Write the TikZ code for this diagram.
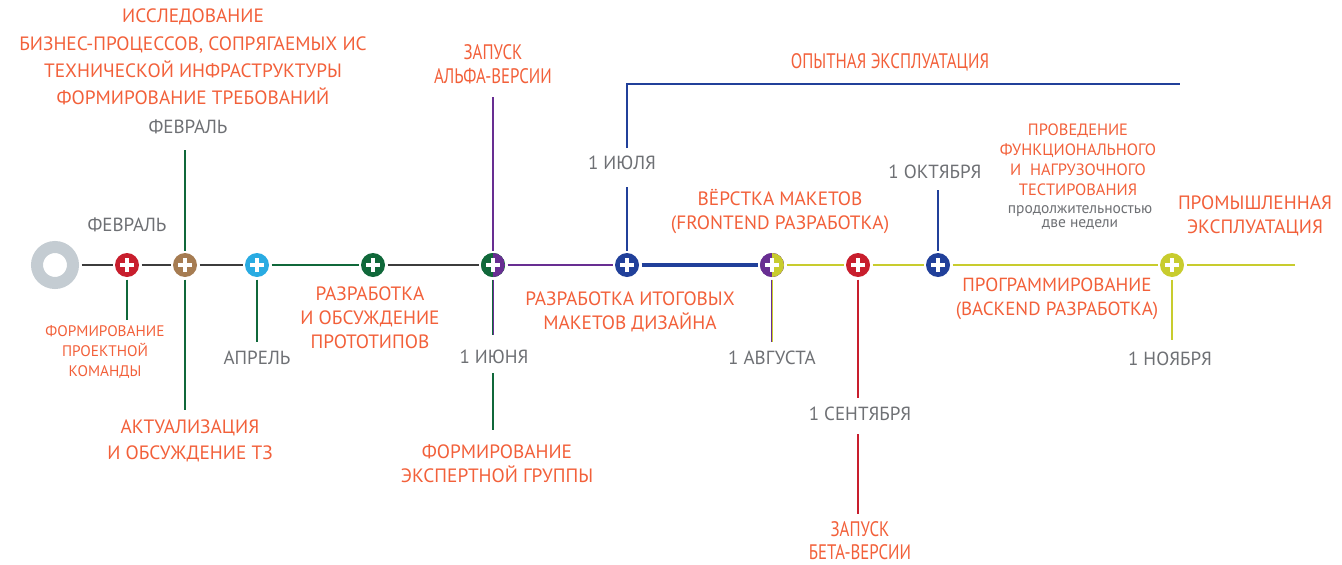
\documentclass[tikz,border=0pt]{standalone}
\usepackage{fontspec}
\setmainfont{PT Sans}
\newfontfamily\narrowfont[FakeStretch=0.8]{PT Sans}
\definecolor{orangec}{RGB}{242,96,58}
\definecolor{grayc}{RGB}{110,112,116}
\definecolor{axisc}{RGB}{60,60,60}
\definecolor{greenc}{RGB}{16,104,58}
\definecolor{purplec}{RGB}{104,46,146}
\definecolor{bluec}{RGB}{33,64,154}
\definecolor{yellowc}{RGB}{200,204,46}
\definecolor{redc}{RGB}{200,30,45}
\definecolor{brownc}{RGB}{166,124,82}
\definecolor{lbluec}{RGB}{41,171,226}
\definecolor{ringc}{RGB}{196,204,210}
\begin{document}
\begin{tikzpicture}[x=1pt, y=-1pt,
		lab/.style={text=orangec, align=center, inner sep=0, font=\fontsize{19.3}{24}\selectfont},
		sm/.style={text=orangec, align=center, inner sep=0, font=\fontsize{15.3}{20}\selectfont},
		date/.style={text=grayc, inner sep=0, font=\fontsize{19}{20}\selectfont},
		ms/.style={circle, minimum size=24pt, inner sep=0, outer sep=2.5pt},
		rhalf/.style={path picture={\fill[#1] (path picture bounding box.north) rectangle (path picture bounding box.south east);}},
		plus/.style={white, line width=4pt},
		axis/.style={line width=2.4pt},
		vline/.style={line width=2.4pt}]
		\useasboundingbox (0,0) rectangle (1342,565);
		%\draw[help lines] (0,0) grid[step=50] (1342,565);
		
		% timeline
		\node[circle, draw=ringc, line width=12pt, minimum size=36pt, outer sep=8.5pt] (s) at (55,265) {};
		\foreach \n\x\c in {1/127/redc, 2/185/brownc, 3/257/lbluec, 4/373/greenc, 5/493/greenc,
			6/627/bluec, 7/772/purplec, 8/858/redc, 9/938/bluec, 10/1172/yellowc}
		\node[ms, fill=\c] (m\n) at (\x,265) {};
		\coordinate (e) at (1295,265);
		
		\node[ms, fill=greenc, rhalf=purplec] at (m5) {};
		\node[ms, fill=purplec, rhalf=yellowc] at (m7) {};
		
		\foreach \n in {1,...,10}
		\draw[plus] ([xshift=-7pt]m\n.center) -- ([xshift=7pt]m\n.center)
			([yshift=-7pt]m\n.center) -- ([yshift=7pt]m\n.center);
		
		\foreach \a\b\c in {s/m1/axisc, m1/m2/axisc, m2/m3/axisc, m3/m4/greenc, m4/m5/axisc,
			m5/m6/purplec, m7/m8/yellowc, m8/m9/yellowc, m9/m10/yellowc, m10/e/yellowc}
		\draw[axis, \c] (\a) -- (\b);
		\draw[bluec, line width=4.5pt] (m6) -- (m7);
		
		% vertical ticks
		\coordinate (b1) at (127,320);
		\coordinate (a2) at (185,150);
		\coordinate (b2) at (185,410);
		\coordinate (b3) at (257,342);
		\coordinate (a5) at (493,97);
		\coordinate (b5) at (493,335);
		\coordinate (c5) at (493,373);
		\coordinate (d5) at (493,430);
		\coordinate (a6) at (627,187);
		\coordinate (c6) at (627,148);
		\coordinate (d6) at (1180,84);
		\coordinate (b7) at (772,342);
		\coordinate (b8) at (858,398);
		\coordinate (c8) at (858,434);
		\coordinate (d8) at (858,514);
		\coordinate (a9) at (938,190);
		\coordinate (b10) at (1172,340);
		
		\draw[vline, greenc] (m1) -- (b1);
		\draw[vline, greenc] (a2) -- (m2) (m2) -- (b2);
		\draw[vline, greenc] (m3) -- (b3);
		\draw[vline, purplec] (a5) -- (m5);
		\draw[line width=1.3pt, greenc] ([xshift=-0.65pt]m5.south) -- ([xshift=-0.65pt]b5);
		\draw[line width=1.3pt, purplec] ([xshift=0.65pt]m5.south) -- ([xshift=0.65pt]b5);
		\draw[vline, greenc] (c5) -- (d5);
		\draw[vline, bluec] (m6) -- (a6);
		\draw[vline, bluec] (c6) |- (d6);
		\draw[line width=1.3pt, purplec] ([xshift=-0.65pt]m7.south) -- ([xshift=-0.65pt]b7);
		\draw[line width=1.3pt, yellowc] ([xshift=0.65pt]m7.south) -- ([xshift=0.65pt]b7);
		\draw[vline, redc] (m8) -- (b8) (c8) -- (d8);
		\draw[vline, bluec] (m9) -- (a9);
		\draw[vline, yellowc] (m10) -- (b10);
		
		% dates
		\foreach \n\x\y\t in {1/188/127/ФЕВРАЛЬ, 2/127/225/ФЕВРАЛЬ, 3/257/358/АПРЕЛЬ,
			4/494/357/1 ИЮНЯ, 5/622/163/1 ИЮЛЯ, 6/772/358/1 АВГУСТА,
			7/860/414/1 СЕНТЯБРЯ, 8/935/172/1 ОКТЯБРЯ, 9/1170/359/1 НОЯБРЯ}
		\node[date] (d_\n) at (\x,\y) {\t};
		
		% stages
		\node[lab, font=\fontsize{19.3}{27.3}\selectfont] (t_res) at (193,57)
			{ИССЛЕДОВАНИЕ\\БИЗНЕС-ПРОЦЕССОВ, СОПРЯГАЕМЫХ ИС\\ТЕХНИЧЕСКОЙ ИНФРАСТРУКТУРЫ\\ФОРМИРОВАНИЕ ТРЕБОВАНИЙ};
		\node[sm] (t_team) at (105,352) {ФОРМИРОВАНИЕ\\ПРОЕКТНОЙ\\КОМАНДЫ};
		\node[lab, font=\fontsize{19.3}{26}\selectfont] (t_tz) at (190,441) {АКТУАЛИЗАЦИЯ\\И ОБСУЖДЕНИЕ ТЗ};
		\node[lab] (t_proto) at (370,318) {РАЗРАБОТКА\\И ОБСУЖДЕНИЕ\\ПРОТОТИПОВ};
		\node[lab, font=\narrowfont\fontsize{21}{24}\selectfont] (t_alpha) at (493,64) {ЗАПУСК\\АЛЬФА-ВЕРСИИ};
		\node[lab] (t_exp) at (497,464) {ФОРМИРОВАНИЕ\\ЭКСПЕРТНОЙ ГРУППЫ};
		\node[lab] (t_design) at (630,312) {РАЗРАБОТКА ИТОГОВЫХ\\МАКЕТОВ ДИЗАЙНА};
		\node[lab, font=\narrowfont\fontsize{21}{24}\selectfont] (t_pilot) at (890,62) {ОПЫТНАЯ ЭКСПЛУАТАЦИЯ};
		\node[lab] (t_front) at (780,212) {ВЁРСТКА МАКЕТОВ\\(FRONTEND РАЗРАБОТКА)};
		\node[lab, font=\narrowfont\fontsize{21}{23}\selectfont] (t_beta) at (860,541) {ЗАПУСК\\БЕТА-ВЕРСИИ};
		\node[lab, font=\fontsize{16.4}{20}\selectfont] (t_test) at (1078,160) {ПРОВЕДЕНИЕ\\ФУНКЦИОНАЛЬНОГО\\И~~НАГРУЗОЧНОГО\\ТЕСТИРОВАНИЯ};
		\node[text=grayc, align=center, inner sep=0, font=\fontsize{15.5}{14}\selectfont] (t_dur) at (1080,218)
			{продолжительностью\\две недели};
		\node[lab, font=\fontsize{19}{24}\selectfont] (t_back) at (1057,299) {ПРОГРАММИРОВАНИЕ\\(BACKEND РАЗРАБОТКА)};
		\node[lab] (t_prod) at (1255,216) {ПРОМЫШЛЕННАЯ\\ЭКСПЛУАТАЦИЯ};
	\end{tikzpicture}
\end{document}
